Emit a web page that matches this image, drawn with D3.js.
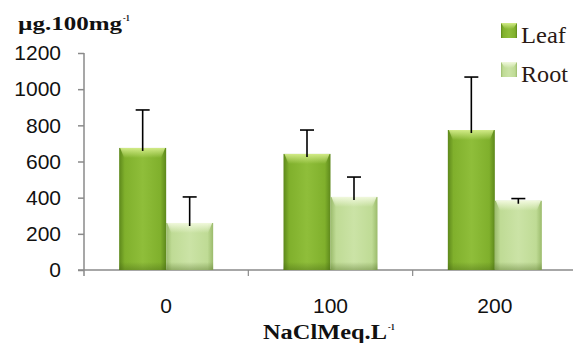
<!DOCTYPE html>
<html><head><meta charset="utf-8">
<script src="https://cdn.jsdelivr.net/npm/d3@7"></script>
<style>html,body{margin:0;padding:0;background:#fff;}svg{display:block;}</style>
</head><body>
<svg id="chart" width="573" height="343"></svg>
<script>
const categories = ["0", "100", "200"];
const seriesNames = ["Leaf", "Root"];
const leafValues = [675, 642, 774];
const rootValues = [260, 404, 383];
const leafErrTop = [885, 774, 1067];
const rootErrTop = [404, 514, 395];
const yTicks = [0, 200, 400, 600, 800, 1000, 1200];

const svg = d3.select("#chart");
const W = 573, H = 343;
const x0 = 84, x1 = 577, yZero = 270, yTop = 53;

const y = d3.scaleLinear().domain([0, 1200]).range([yZero, yTop]);
const xBand = d3.scaleBand().domain(categories).range([x0, x1]).paddingInner(0.428).paddingOuter(0.214);
const xSub = d3.scaleBand().domain(seriesNames).range([0, xBand.bandwidth()]);

const defs = svg.append("defs");
function hGrad(id, edge, mid, center) {
  const g = defs.append("linearGradient").attr("id", id).attr("x1", "0").attr("x2", "1").attr("y1", "0").attr("y2", "0");
  [[0, edge], [0.12, mid], [0.5, center], [0.88, mid], [1, edge]].forEach(s =>
    g.append("stop").attr("offset", s[0]).attr("stop-color", s[1]));
}
function vGrad(id, c, op) {
  const g = defs.append("linearGradient").attr("id", id).attr("x1", "0").attr("x2", "0").attr("y1", "0").attr("y2", "1");
  g.append("stop").attr("offset", 0).attr("stop-color", c).attr("stop-opacity", op);
  g.append("stop").attr("offset", 1).attr("stop-color", c).attr("stop-opacity", 0);
}
hGrad("leafG", "#5d881b", "#80b02c", "#8fbe3a");
hGrad("rootG", "#9bbb6c", "#bfdb95", "#cbe3a6");
vGrad("leafTop", "#d6ee8c", 0.95);
vGrad("rootTop", "#f3fae0", 0.95);
const bot = defs.append("linearGradient").attr("id", "botG").attr("x1", "0").attr("x2", "0").attr("y1", "0").attr("y2", "1");
bot.append("stop").attr("offset", 0).attr("stop-color", "#3d5a10").attr("stop-opacity", 0);
bot.append("stop").attr("offset", 1).attr("stop-color", "#3d5a10").attr("stop-opacity", 0.35);

const data = categories.map((c, i) => ({
  cat: c,
  bars: [
    { s: "Leaf", v: leafValues[i], e: leafErrTop[i], fill: "url(#leafG)", top: "url(#leafTop)" },
    { s: "Root", v: rootValues[i], e: rootErrTop[i], fill: "url(#rootG)", top: "url(#rootTop)" }
  ]
}));

// axes
const axisColor = "#8a8a8a";
const yAxis = d3.axisLeft(y).tickValues(yTicks).tickSize(6).tickPadding(17).tickFormat(d3.format("d"));
const gy = svg.append("g").attr("transform", `translate(${x0},0)`).call(yAxis);
gy.select(".domain").attr("stroke", axisColor).attr("stroke-width", 1.5).attr("d", `M0,${yTop}V${yZero + 6}`);
gy.selectAll(".tick line").attr("stroke", axisColor).attr("stroke-width", 1.5);
gy.selectAll(".tick text").attr("font-family", "Liberation Sans, Arial, sans-serif").attr("font-size", 21).attr("fill", "#111");

// x axis line + category boundary ticks
const gx = svg.append("g");
gx.append("line").attr("x1", x0 - 6).attr("x2", W).attr("y1", yZero).attr("y2", yZero).attr("stroke", axisColor).attr("stroke-width", 1.5);
const step = xBand.step();
categories.slice(1).forEach(c => {
  const bx = xBand(c) - xBand.paddingInner() * step / 2;
  gx.append("line").attr("x1", bx).attr("x2", bx).attr("y1", yZero).attr("y2", yZero + 6).attr("stroke", axisColor).attr("stroke-width", 1.2);
});
gx.selectAll("text.cat").data(categories).enter().append("text")
  .attr("class", "cat")
  .attr("x", d => xBand(d) + xBand.bandwidth() / 2)
  .attr("y", 313)
  .attr("text-anchor", "middle")
  .attr("font-family", "Liberation Sans, Arial, sans-serif").attr("font-size", 21).attr("fill", "#111")
  .text(d => d);

// bars
const groups = svg.append("g").selectAll("g").data(data).enter().append("g")
  .attr("transform", d => `translate(${xBand(d.cat)},0)`);
const bars = groups.selectAll("g.bar").data(d => d.bars).enter().append("g").attr("class", "bar");
bars.append("rect")
  .attr("x", d => xSub(d.s)).attr("width", xSub.bandwidth())
  .attr("y", d => y(d.v)).attr("height", d => yZero - y(d.v))
  .attr("fill", d => d.fill);
bars.append("path")
  .attr("d", d => {
    const xa = xSub(d.s), w = xSub.bandwidth(), t = y(d.v);
    return `M${xa + 1},${t}H${xa + w - 1}L${xa + w - 5},${t + 10}H${xa + 5}Z`;
  })
  .attr("fill", d => d.top);
bars.append("rect")
  .attr("x", d => xSub(d.s)).attr("width", xSub.bandwidth())
  .attr("y", yZero - 8).attr("height", 8)
  .attr("fill", "url(#botG)");

// error bars
const err = bars.append("g").attr("stroke", "#000").attr("stroke-width", 1.6);
err.append("line")
  .attr("x1", d => xSub(d.s) + xSub.bandwidth() / 2).attr("x2", d => xSub(d.s) + xSub.bandwidth() / 2)
  .attr("y1", d => y(d.v) + 3).attr("y2", d => y(d.e));
err.append("line")
  .attr("x1", d => xSub(d.s) + xSub.bandwidth() / 2 - 7).attr("x2", d => xSub(d.s) + xSub.bandwidth() / 2 + 7)
  .attr("y1", d => y(d.e)).attr("y2", d => y(d.e));

// legend
const legend = svg.append("g");
const legFill = ["url(#leafG)", "url(#rootG)"];
const legTop = ["url(#leafTop)", "url(#rootTop)"];
const legY = [23, 62];
const legLen = [45, 47];
seriesNames.forEach((s, i) => {
  legend.append("rect").attr("x", 501).attr("y", legY[i]).attr("width", 16).attr("height", 15).attr("fill", legFill[i]);
  legend.append("path").attr("d", `M501,${legY[i]}H517L513,${legY[i] + 6}H505Z`).attr("fill", legTop[i]);
  legend.append("text").attr("x", 521).attr("y", legY[i] + 20)
    .attr("font-family", "Liberation Serif, Times New Roman, serif").attr("font-size", 23).attr("fill", "#2a1a14")
    .attr("textLength", legLen[i]).attr("lengthAdjust", "spacingAndGlyphs")
    .text(s);
});

// axis titles
const yTitle = svg.append("text").attr("x", 18).attr("y", 30)
  .attr("font-family", "Liberation Serif, Times New Roman, serif").attr("font-weight", "bold").attr("font-size", 19).attr("fill", "#111");
yTitle.append("tspan").attr("textLength", 104).attr("lengthAdjust", "spacingAndGlyphs").text("µg.100mg");
yTitle.append("tspan").attr("font-size", 8).attr("dy", -9).attr("dx", 1).text("-1");

const xTitle = svg.append("text").attr("x", 263).attr("y", 339)
  .attr("font-family", "Liberation Serif, Times New Roman, serif").attr("font-weight", "bold").attr("font-size", 20).attr("fill", "#111");
xTitle.append("tspan").attr("textLength", 124).attr("lengthAdjust", "spacingAndGlyphs").text("NaClMeq.L");
xTitle.append("tspan").attr("font-size", 8).attr("dy", -9).attr("dx", 1).text("-1");
</script>
</body></html>
